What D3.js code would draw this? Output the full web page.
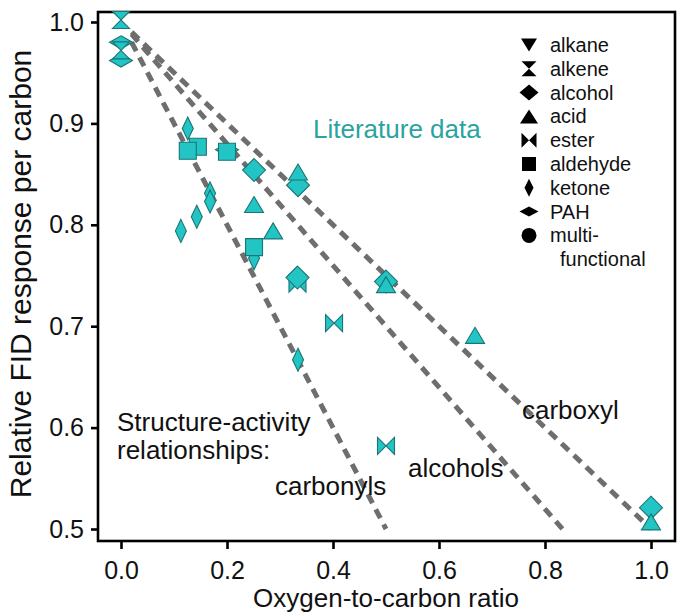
<!DOCTYPE html>
<html>
<head>
<meta charset="utf-8">
<script src="https://cdn.jsdelivr.net/npm/d3@7"></script>
<style>
  body { margin: 0; background: #fff; }
  text { font-family: "Liberation Sans", Arial, sans-serif; }
</style>
</head>
<body>
<script>
// ---- data ----
var xTicks = [0.0, 0.2, 0.4, 0.6, 0.8, 1.0];
var yTicks = [0.5, 0.6, 0.7, 0.8, 0.9, 1.0];

var legendNames = ["alkane", "alkene", "alcohol", "acid", "ester", "aldehyde", "ketone", "PAH", "multi-"];

// O:C ratio and relative FID response per class
var pahOC = [0, 0, 0.2];
var pahFID = [0.962, 0.980, 0.874];
var alkeneOC = [0, 0];
var alkeneFID = [0.972, 1.002];
var ketoneOC = [0.126, 0.113, 0.143, 0.168, 0.168, 0.251, 0.334];
var ketoneFID = [0.895, 0.794, 0.808, 0.831, 0.823, 0.767, 0.667];
var aldehydeOC = [0.145, 0.126, 0.2, 0.251];
var aldehydeFID = [0.877, 0.873, 0.872, 0.778];
var esterOC = [0.333, 0.402, 0.5];
var esterFID = [0.742, 0.703, 0.582];
var alcoholOC = [0.251, 0.334, 0.333, 0.5, 1.0];
var alcoholFID = [0.854, 0.839, 0.748, 0.744, 0.521];
var acidOC = [0.334, 0.251, 0.287, 0.5, 0.668, 1.0];
var acidFID = [0.852, 0.820, 0.794, 0.741, 0.691, 0.507];

// structure-activity relationship lines
var sarNames = ["carbonyls", "alcohols", "carboxyl"];
var sarX0 = [0.02, 0.02, 0.02];
var sarY0 = [0.98, 0.988, 0.99];
var sarX1 = [0.5, 0.833, 1.0];
var sarY1 = [0.5, 0.5, 0.5];

var W = 677, H = 615;
var fill = "#22c4c4", edge = "#1b7475";

var svg = d3.select("body").append("svg")
    .attr("width", W)
    .attr("height", H);

var x = d3.scaleLinear().domain([0, 1]).range([121, 651]);
var y = d3.scaleLinear().domain([0.5, 1.0]).range([529, 22]);

// marker shapes, w/h are half sizes
var shapes = {
    triDown: function (w, h) { return "M" + -w + "," + -h + "L" + w + "," + -h + "L0," + h + "Z"; },
    triUp: function (w, h) { return "M0," + -h + "L" + w + "," + h + "L" + -w + "," + h + "Z"; },
    hourglass: function (w, h) { return "M" + -w + "," + -h + "L" + w + "," + -h + "L" + -w + "," + h + "L" + w + "," + h + "Z"; },
    bowtie: function (w, h) { return "M" + -w + "," + -h + "L" + w + "," + h + "L" + w + "," + -h + "L" + -w + "," + h + "Z"; },
    diamond: function (w, h) { return "M0," + -h + "L" + w + ",0L0," + h + "L" + -w + ",0Z"; },
    square: function (w, h) { return "M" + -w + "," + -h + "H" + w + "V" + h + "H" + -w + "Z"; },
    circle: function (w) { return "M" + -w + ",0A" + w + "," + w + " 0 1,0 " + w + ",0A" + w + "," + w + " 0 1,0 " + -w + ",0Z"; }
};

// frame
svg.append("rect")
    .attr("x", 98).attr("y", 12)
    .attr("width", 577).attr("height", 529)
    .attr("fill", "none")
    .attr("stroke", "#000")
    .attr("stroke-width", 2.6);

// axes
var yAxis = svg.append("g")
    .attr("transform", "translate(98,0)")
    .call(d3.axisLeft(y).tickValues(yTicks).tickSize(7).tickPadding(7).tickFormat(d3.format(".1f")));
var xAxis = svg.append("g")
    .attr("transform", "translate(0,541)")
    .call(d3.axisBottom(x).tickValues(xTicks).tickSize(8).tickPadding(12).tickFormat(d3.format(".1f")));

[xAxis, yAxis].forEach(function (g) {
    g.select(".domain").remove();
    g.selectAll(".tick line").attr("stroke", "#000").attr("stroke-width", 2.6);
    g.selectAll(".tick text")
        .attr("fill", "#111")
        .style("font-family", "'Liberation Sans', Arial, sans-serif")
        .style("font-size", "25px");
});

// axis titles
svg.append("text")
    .attr("x", 386).attr("y", 607)
    .attr("text-anchor", "middle")
    .style("font-size", "26px")
    .attr("fill", "#111")
    .text("Oxygen-to-carbon ratio");

svg.append("text")
    .attr("transform", "translate(31,274) rotate(-90)")
    .attr("text-anchor", "middle")
    .style("font-size", "30px")
    .attr("fill", "#111")
    .text("Relative FID response per carbon");

// dashed SAR lines
svg.append("g").selectAll("line")
    .data(sarNames)
    .enter().append("line")
    .attr("x1", function (d, i) { return x(sarX0[i]); })
    .attr("y1", function (d, i) { return y(sarY0[i]); })
    .attr("x2", function (d, i) { return x(sarX1[i]); })
    .attr("y2", function (d, i) { return y(sarY1[i]); })
    .attr("stroke", "#6e6e6e")
    .attr("stroke-width", 5)
    .attr("stroke-dasharray", "10,7");

// data markers
function drawSeries(xs, ys, shape, w, h, dy) {
    svg.append("g").selectAll("path")
        .data(xs)
        .enter().append("path")
        .attr("transform", function (d, i) { return "translate(" + x(d) + "," + (y(ys[i]) + (dy || 0)) + ")"; })
        .attr("d", shapes[shape](w, h))
        .attr("fill", fill)
        .attr("stroke", edge)
        .attr("stroke-width", 1.1);
}

drawSeries(pahOC, pahFID, "diamond", 11.5, 6.5);
drawSeries(alkeneOC, alkeneFID, "hourglass", 8.5, 8.5);
drawSeries(ketoneOC, ketoneFID, "diamond", 5.5, 11.5);
drawSeries(esterOC, esterFID, "bowtie", 8.5, 8.5);
drawSeries(aldehydeOC, aldehydeFID, "square", 8.5, 8.5);
drawSeries(alcoholOC, alcoholFID, "diamond", 11.5, 11.5);
drawSeries(acidOC, acidFID, "triUp", 9.5, 8);

// annotations
svg.append("text")
    .attr("x", 313).attr("y", 138)
    .attr("fill", "#2aa3a1")
    .style("font-size", "26px")
    .text("Literature data");

svg.append("text")
    .attr("x", 117).attr("y", 431)
    .attr("fill", "#111")
    .style("font-size", "26px")
    .text("Structure-activity");
svg.append("text")
    .attr("x", 117).attr("y", 459)
    .attr("fill", "#111")
    .style("font-size", "26px")
    .text("relationships:");

var sarLabelX = [275, 408, 522];
var sarLabelY = [495, 477, 419];
svg.append("g").selectAll("text")
    .data(sarNames)
    .enter().append("text")
    .attr("x", function (d, i) { return sarLabelX[i]; })
    .attr("y", function (d, i) { return sarLabelY[i]; })
    .attr("fill", "#111")
    .style("font-size", "26px")
    .text(function (d) { return d; });

// legend
var legendShapes = ["triDown", "hourglass", "diamond", "triUp", "bowtie", "square", "diamond", "diamond", "circle"];
var legendW = [8, 7.5, 9.5, 9, 7.5, 7, 4.5, 9.5, 7.5];
var legendH = [6.5, 7.5, 8, 7, 7.5, 7, 9, 5, 7.5];

var legend = svg.append("g").attr("transform", "translate(529,45)");
var rows = legend.selectAll("g")
    .data(legendNames)
    .enter().append("g")
    .attr("transform", function (d, i) { return "translate(0," + i * 23.8 + ")"; });
rows.append("path")
    .attr("d", function (d, i) { return shapes[legendShapes[i]](legendW[i], legendH[i]); })
    .attr("fill", "#000");
rows.append("text")
    .attr("x", 21).attr("y", 7)
    .style("font-size", "20px")
    .attr("fill", "#111")
    .text(function (d) { return d; });
legend.append("text")
    .attr("x", 31).attr("y", 9 * 23.8 + 7)
    .style("font-size", "20px")
    .attr("fill", "#111")
    .text("functional");
</script>
</body>
</html>
